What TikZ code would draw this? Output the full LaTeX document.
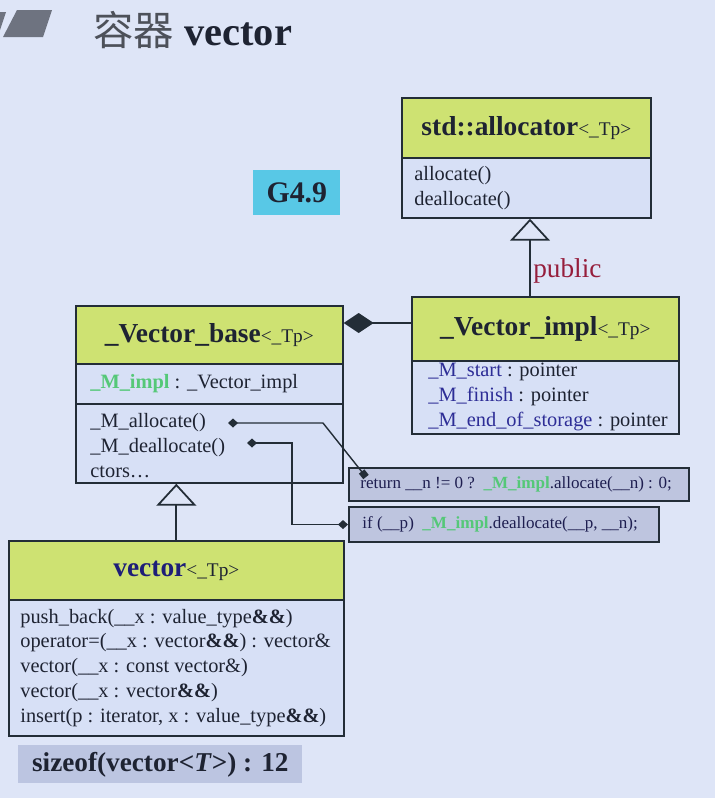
\documentclass[tikz,border=0pt]{standalone}
\usepackage{fontspec}
\setmainfont{Liberation Serif}
\newfontfamily\cjk{Noto Sans CJK SC}
\usetikzlibrary{arrows.meta, positioning, calc}

\definecolor{pagebg}{RGB}{222,229,247}
\definecolor{hdrgreen}{RGB}{206,226,114}
\definecolor{bodyblue}{RGB}{215,224,246}
\definecolor{boxline}{RGB}{35,45,55}
\definecolor{txtdark}{RGB}{30,35,50}
\definecolor{attrblue}{RGB}{45,45,150}
\definecolor{implgreen}{RGB}{85,200,120}
\definecolor{pubred}{RGB}{150,30,60}
\definecolor{vecblue}{RGB}{30,30,120}
\definecolor{codegray}{RGB}{190,197,223}
\definecolor{codetxt}{RGB}{30,30,80}
\definecolor{gcyan}{RGB}{88,200,230}
\definecolor{sizegray}{RGB}{188,197,225}
\definecolor{markgray}{RGB}{110,115,128}

\newcommand{\tplarg}{{\fontsize{11}{13}\selectfont\mdseries<\_Tp>}}
\newcommand{\implname}{\textcolor{implgreen}{\textbf{\_M\_impl}}}

\tikzset{
  box/.style={draw=boxline, line width=1pt, anchor=north west, inner sep=0pt},
  hdr/.style={box, fill=hdrgreen, text=txtdark, font=\fontsize{15.6}{19}\selectfont\bfseries},
  sect/.style={box, fill=bodyblue},
  members/.style={anchor=west, align=left, inner sep=0pt, text=txtdark,
    font=\fontsize{11.6}{14.2}\selectfont},
  codebox/.style={box, fill=codegray, line width=1.2pt},
  codetext/.style={anchor=west, inner sep=0pt, text=codetxt, font=\fontsize{9.7}{12}\selectfont},
  inherit/.style={-{Triangle[open, length=0.44cm, width=0.8cm]}, line width=1pt, draw=boxline},
  compose/.style={-{Diamond[length=0.6cm, width=0.4cm]}, line width=1pt, draw=boxline},
  callout/.style={line width=0.8pt, draw=boxline},
}

\begin{document}
\begin{tikzpicture}[x=0.02cm, y=-0.02cm]
  % page
  \fill[pagebg] (0,0) rectangle (715,798);
  \useasboundingbox (0,0) rectangle (715,798);

  % title
  \fill[markgray] (17,10) -- (52,10) -- (43,37) -- (3,37) -- cycle;
  \fill[markgray] (0,12) -- (6,12) -- (0,30) -- cycle;
  \node[anchor=west, inner sep=0pt, font=\fontsize{23}{26}\selectfont] (title) at (93,30)
    {\textcolor{markgray!70!black}{\cjk 容器} \textcolor{txtdark}{\textbf{vector}}};

  % version tag
  \node[anchor=north west, fill=gcyan, minimum width=1.74cm, minimum height=0.9cm,
    text=txtdark, font=\fontsize{17}{20}\selectfont\bfseries] (ver) at (253,170) {G4.9};

  % std::allocator
  \node[hdr, minimum width=4.98cm, minimum height=1.2cm] (alloc-h) at (401,97) {std::allocator\tplarg};
  \node[sect, minimum width=4.98cm, minimum height=1.2cm] (alloc-b) at (401,157) {};
  \node[members] (alloc-ops) at ([xshift=0.26cm]alloc-b.west) {allocate()\\deallocate()};

  % _Vector_impl
  \node[hdr, minimum width=5.34cm, minimum height=1.28cm] (vimpl-h) at (411,296) {\_Vector\_impl\tplarg};
  \node[sect, minimum width=5.34cm, minimum height=1.46cm] (vimpl-b) at (411,360) {};
  \node[members] (vimpl-attr) at ([xshift=0.34cm]vimpl-b.west)
    {\textcolor{attrblue}{\_M\_start} : pointer\\
     \textcolor{attrblue}{\_M\_finish} : pointer\\
     \textcolor{attrblue}{\_M\_end\_of\_storage} : pointer};

  % _Vector_base
  \node[hdr, minimum width=5.34cm, minimum height=1.16cm] (vbase-h) at (75,305) {\_Vector\_base\tplarg};
  \node[sect, minimum width=5.34cm, minimum height=0.8cm] (vbase-a) at (75,363) {};
  \node[members] (vbase-attr) at ([xshift=0.3cm]vbase-a.west) {\implname{} : \_Vector\_impl};
  \node[sect, minimum width=5.34cm, minimum height=1.58cm] (vbase-m) at (75,403) {};
  \node[members] (vbase-ops) at ([xshift=0.3cm, yshift=-0.04cm]vbase-m.west)
    {\_M\_allocate()\\\_M\_deallocate()\\ctors\ldots};

  % vector
  \node[hdr, minimum width=6.7cm, minimum height=1.18cm] (vec-h) at (8,540)
    {\textcolor{vecblue}{vector}\tplarg};
  \node[sect, minimum width=6.7cm, minimum height=2.72cm] (vec-b) at (8,599) {};
  \node[members, font=\fontsize{11.6}{14.1}\selectfont] (vec-ops) at ([xshift=0.24cm]vec-b.west)
    {push\_back(\_\_x : value\_type\textbf{\&\&})\\
     operator=(\_\_x : vector\textbf{\&\&}) : vector\&\\
     vector(\_\_x : const vector\&)\\
     vector(\_\_x : vector\textbf{\&\&})\\
     insert(p : iterator, x : value\_type\textbf{\&\&})};

  % sizeof
  \node[anchor=north west, fill=sizegray, minimum width=5.68cm, minimum height=0.76cm,
    text=txtdark, font=\fontsize{15.5}{18}\selectfont\bfseries] (size) at (18,745)
    {sizeof(vector<\textit{T}>) : 12};

  % code boxes
  \node[codebox, minimum width=6.8cm, minimum height=0.66cm] (code1) at (348,467) {};
  \node[codetext] (code1-txt) at ([xshift=0.24cm]code1.west)
    {return \_\_n != 0 ?~~\implname.allocate(\_\_n) : 0;};
  \node[codebox, minimum width=6.2cm, minimum height=0.7cm] (code2) at (348,506) {};
  \node[codetext] (code2-txt) at ([xshift=0.28cm]code2.west)
    {if (\_\_p)~~\implname.deallocate(\_\_p, \_\_n);};

  % inheritance
  \coordinate (pub-line) at (530,0);
  \draw[inherit] (vimpl-h.north -| pub-line) -- (alloc-b.south -| pub-line);
  \node[anchor=west, inner sep=0pt, text=pubred, font=\fontsize{15.5}{18}\selectfont] (pub) at (533,271) {public};
  \draw[inherit] (vec-h.north) -- (vec-h.north |- vbase-m.south);

  % composition
  \draw[compose] (vimpl-h.west |- 0,323) -- (vbase-h.east |- 0,323);

  % calls into the code
  \coordinate (m-alloc) at (228,423);
  \coordinate (kink) at (323,423);
  \coordinate (c1-in) at (366,477);
  \draw[callout, {Diamond[length=0.2cm, width=0.18cm]}-{Square[length=0.14cm, width=0.14cm]}]
    (m-alloc) -- (kink) -- (c1-in);
  \coordinate (m-dealloc) at (247,443);
  \coordinate (bend) at (292,443);
  \draw[callout, {Diamond[length=0.2cm, width=0.18cm]}-{Diamond[length=0.2cm, width=0.18cm]}]
    (m-dealloc) -- (bend) -- (bend |- code2.west) -- (code2.west);
\end{tikzpicture}
\end{document}
